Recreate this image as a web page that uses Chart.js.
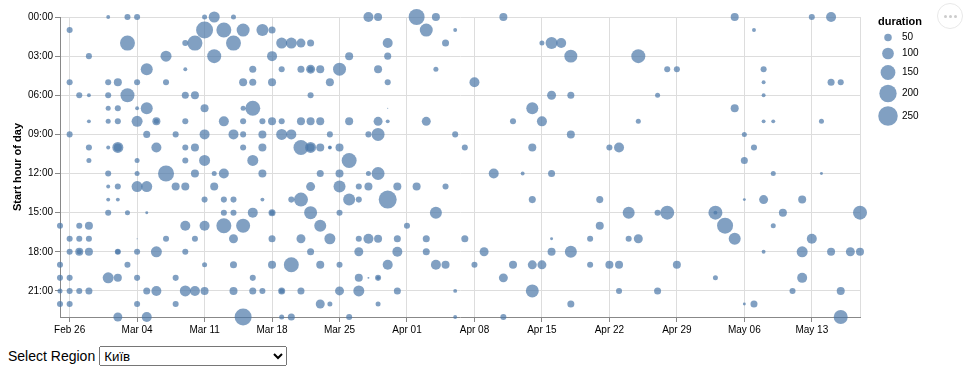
<!DOCTYPE html>
<html>
<head>
<meta charset="utf-8">
<script src="https://cdn.jsdelivr.net/npm/chart.js@4/dist/chart.umd.min.js"></script>
<style>
  html, body { margin: 0; padding: 0; background: #fff; }
  #wrap { position: relative; width: 980px; height: 372px; }
  #c { position: absolute; left: 0; top: 0; }
  #actions { position: absolute; left: 937px; top: 3px; width: 26px; height: 26px; border-radius: 50%;
    border: 1px solid #e8e8e8; box-sizing: border-box; display: flex; align-items: center; justify-content: center; gap: 2px; }
  #actions span { width: 3px; height: 3px; border-radius: 50%; background: #ccc; display: block; }
  #bind { position: absolute; left: 8px; top: 346px; font: 14px 'Liberation Sans', Arial, sans-serif; color: #000; display: flex; align-items: center; }
  #bind select { margin-left: 4px; width: 188px; height: 20px; font: 13.33px 'Liberation Sans', Arial, sans-serif; }
</style>
</head>
<body>
<div id="wrap">
  <canvas id="c" width="980" height="340" style="width:980px;height:340px"></canvas>
  <div id="actions"><span></span><span></span><span></span></div>
  <div id="bind"><span>Select Region</span><select id="region"></select></div>
</div>
<script>
// ---- data ----
const regions = ["Київ"];
// day index (0 = Feb 25, one column per day)
const tickDays = [1, 8, 15, 22, 29, 36, 43, 50, 57, 64, 71, 78];
const tickLabels = ["Feb 26", "Mar 04", "Mar 11", "Mar 18", "Mar 25", "Apr 01", "Apr 08", "Apr 15", "Apr 22", "Apr 29", "May 06", "May 13"];
const hourTicks = [0, 3, 6, 9, 12, 15, 18, 21];
const legendValues = [50, 100, 150, 200, 250];

const days = [
  0,0,0,0,0,
  1,1,1,1,1,1,1,1,
  2,2,2,2,2,2,
  3,3,3,3,3,3,3,3,3,
  5,5,5,5,5,5,5,5,5,5,5,
  6,6,6,6,6,6,6,6,6,6,6,
  7,7,7,7,7,
  8,8,8,8,8,8,8,8,8,8,8,
  9,9,9,9,9,9,9,
  10,10,10,10,10,
  11,11,11,11,
  12,12,12,12,
  13,13,13,13,13,13,13,13,13,13,
  14,14,14,14,14,14,
  15,15,15,15,15,15,15,15,15,
  16,16,16,16,
  17,17,17,17,17,17,
  18,18,18,18,18,18,18,18,
  19,19,19,19,19,19,19,19,
  20,20,20,20,20,20,20,
  21,21,21,21,21,21,21,
  22,22,22,22,22,22,22,22,
  23,23,23,23,23,23,23,
  24,24,24,24,24,
  25,25,25,25,25,25,25,
  26,26,26,26,26,26,26,26,26,26,
  27,27,27,27,27,27,27,
  28,28,28,28,28,28,
  29,29,29,29,29,29,29,
  30,30,30,30,30,
  31,31,31,31,31,31,
  32,32,32,32,32,32,
  33,33,33,33,33,33,33,33,33,
  34,34,34,34,34,34,34,
  35,35,35,35,
  36,
  37,37,
  38,38,38,38,
  39,39,39,39,
  40,40,40,
  41,41,41,41,
  42,42,
  43,43,
  44,
  45,
  46,46,46,
  47,47,
  48,
  49,49,49,49,49,
  50,50,50,
  51,51,51,51,51,
  52,
  53,53,53,53,53,
  55,55,
  56,56,
  57,57,
  58,58,58,
  59,59,
  60,60,60,
  62,62,62,
  63,63,
  64,64,
  68,68,68,
  69,
  70,70,70,
  71,71,71,71,
  72,72,72,
  73,73,73,73,73,73,
  74,74,74,
  75,
  76,
  77,77,77,
  78,78,
  79,79,
  80,80,80,
  81,81,81,
  82,
  83,83
];
const hours = [
  16,19,20,21,22,
  1,5,9,17,18,20,21,22,
  6,16,17,18,18,21,
  3,6,8,10,11,16,17,18,21,
  0,5,6,7,8,10,12,13,14,15,20,
  5,7,8,10,10,13,14,18,18,20,23,
  0,2,6,15,19,
  0,5,7,8,11,12,13,17,18,20,22,
  4,7,9,13,15,21,23,
  8,8,10,18,21,
  3,5,12,17,
  9,13,20,22,
  2,4,6,8,10,11,13,16,18,21,
  2,6,10,12,17,21,
  0,1,7,9,11,14,16,19,21,
  0,3,12,13,
  1,8,12,14,15,16,
  0,2,9,14,15,17,19,21,
  1,5,7,8,9,10,16,23,
  4,5,7,11,15,20,21,
  1,8,9,10,12,14,21,
  1,3,5,8,15,15,17,19,
  2,4,8,9,21,21,23,
  2,9,14,19,23,
  2,4,8,10,14,17,21,
  2,4,4,6,8,10,10,13,15,18,
  4,8,10,12,16,19,22,
  5,9,10,10,17,22,
  4,10,12,13,15,19,21,
  3,8,11,14,23,
  13,14,17,18,20,21,
  0,9,12,13,17,20,
  0,4,8,9,12,17,20,20,22,
  2,3,5,7,8,14,19,
  13,17,18,21,
  16,
  0,13,
  1,8,17,18,
  0,4,15,19,
  2,13,19,
  1,9,21,23,
  10,17,
  5,19,
  18,
  12,
  0,20,23,
  8,19,
  12,
  7,10,14,19,21,
  2,8,19,
  2,6,12,17,18,
  2,
  3,6,9,18,22,
  17,19,
  14,16,
  10,19,
  10,19,21,
  15,17,
  3,8,17,
  6,15,21,
  4,15,
  4,19,
  15,15,20,
  16,
  0,7,17,
  9,11,14,22,
  1,10,22,
  4,5,6,8,14,18,
  8,12,16,
  15,
  21,
  14,18,20,
  0,17,
  8,12,
  0,5,18,
  5,21,23,
  18,
  15,18
];
const durations = [
  38,38,38,31,38,
  38,38,38,38,38,38,38,38,
  38,38,38,55,31,38,
  38,25,25,38,31,55,38,55,46,
  25,38,38,31,31,25,38,25,25,38,90,
  55,38,38,90,55,38,25,38,31,55,65,
  38,153,136,31,38,
  38,38,25,90,31,31,90,16,38,38,38,
  104,104,46,90,21,46,77,
  55,31,77,90,77,
  90,38,173,38,
  38,55,38,38,
  38,25,46,38,38,38,55,77,38,90,
  153,55,55,55,38,77,
  31,193,55,77,90,38,77,31,55,
  90,136,31,55,
  153,77,77,38,38,153,
  31,153,77,38,38,65,46,55,
  119,55,31,38,38,38,136,193,
  46,46,153,90,77,38,46,
  104,38,55,55,55,25,38,
  46,77,55,55,46,31,46,55,
  90,38,38,90,46,31,31,
  90,77,38,153,46,
  65,46,55,153,136,65,46,
  46,65,38,38,55,90,55,65,119,46,
  55,55,55,46,104,55,65,
  55,38,25,21,90,31,
  119,55,55,104,38,38,65,
  55,55,153,104,38,
  38,38,38,65,55,90,
  77,38,31,55,77,18,
  55,55,65,119,119,55,38,25,31,
  77,46,38,16,25,214,77,
  55,46,77,46,
  38,
  173,55,
  119,65,46,46,
  55,31,104,77,
  46,38,55,
  25,38,25,25,
  38,46,
  77,38,
  65,
  77,
  55,65,38,
  38,55,
  25,
  104,55,46,65,119,
  31,77,65,
  104,65,46,21,55,
  77,
  119,46,55,104,46,
  38,38,
  46,55,
  38,55,
  77,55,38,
  104,38,
  136,31,65,
  31,38,46,
  38,136,
  38,55,
  136,25,31,
  173,
  55,55,104,
  31,46,21,21,
  25,38,46,
  38,25,25,25,65,25,
  25,31,31,
  55,
  38,
  55,90,77,
  38,77,
  31,21,
  77,46,55,
  38,55,136,
  65,
  136,55
];

// ---- chart ----
const FONT = "'Liberation Sans', Arial, Helvetica, sans-serif";
const FILL = 'rgba(76,120,168,0.7)';
function sizeToRadius(d) {
  const area = Math.max(1, 1.28 * d - 20);
  return Math.sqrt(area / Math.PI);
}

const sel = document.getElementById('region');
regions.forEach(r => { const o = document.createElement('option'); o.textContent = r; sel.appendChild(o); });

Chart.defaults.font.family = FONT;
Chart.defaults.color = '#000';

const points = days.map((d, i) => ({ x: d, y: hours[i], dur: durations[i] }));

const framePlugin = {
  id: 'frame',
  beforeDatasetsDraw(chart) {
    const { ctx, chartArea: a } = chart;
    ctx.save();
    ctx.strokeStyle = '#ddd';
    ctx.lineWidth = 1;
    ctx.beginPath();
    ctx.moveTo(Math.round(a.right) + 0.5, a.top);
    ctx.lineTo(Math.round(a.right) + 0.5, a.bottom);
    ctx.stroke();
    ctx.restore();
  }
};

const sizeLegend = {
  id: 'sizeLegend',
  afterDraw(chart) {
    const { ctx } = chart;
    ctx.save();
    ctx.fillStyle = '#000';
    ctx.font = 'bold 11px ' + FONT;
    ctx.textBaseline = 'middle';
    ctx.textAlign = 'left';
    ctx.fillText('duration', 878, 22);
    const ys = [37.5, 53.5, 72.5, 93.5, 116];
    legendValues.forEach((v, i) => {
      ctx.beginPath();
      ctx.fillStyle = FILL;
      ctx.arc(888, ys[i], sizeToRadius(v), 0, Math.PI * 2);
      ctx.fill();
      ctx.fillStyle = '#000';
      ctx.font = '10px ' + FONT;
      ctx.fillText(String(v), 902, ys[i]);
    });
    ctx.restore();
  }
};

new Chart(document.getElementById('c'), {
  type: 'bubble',
  data: {
    datasets: [{
      data: points,
      backgroundColor: FILL,
      borderWidth: 0,
      clip: false,
      radius: c => sizeToRadius(c.raw.dur),
      hoverRadius: 0
    }]
  },
  options: {
    responsive: false,
    animation: false,
    events: [],
    layout: { padding: { left: 0, top: 17, right: 120, bottom: 0 } },
    plugins: { legend: { display: false }, tooltip: { enabled: false } },
    scales: {
      x: {
        type: 'linear', min: 0, max: 83,
        afterBuildTicks: s => { s.ticks = tickDays.map(v => ({ value: v })); },
        afterFit: s => { s.height = 23; },
        ticks: {
          autoSkip: false, maxRotation: 0, padding: 2,
          font: { size: 10, family: FONT }, color: '#000',
          callback: v => tickLabels[tickDays.indexOf(v)]
        },
        grid: { color: '#ddd', tickColor: '#888', tickLength: 5, lineWidth: 1 },
        border: { color: '#888' }
      },
      y: {
        type: 'linear', min: 0, max: 23, reverse: true,
        afterBuildTicks: s => { s.ticks = hourTicks.map(v => ({ value: v })); },
        afterFit: s => { s.width = 60; },
        ticks: {
          padding: 2, font: { size: 10, family: FONT }, color: '#000',
          callback: v => String(v).padStart(2, '0') + ':00'
        },
        grid: { color: '#ddd', tickColor: '#888', tickLength: 5, lineWidth: 1 },
        border: { color: '#888' },
        title: {
          display: true, text: 'Start hour of day', color: '#000',
          font: { size: 11, weight: 'bold', family: FONT },
          padding: { top: 11, bottom: 0 }
        }
      }
    }
  },
  plugins: [framePlugin, sizeLegend]
});
</script>
</body>
</html>
